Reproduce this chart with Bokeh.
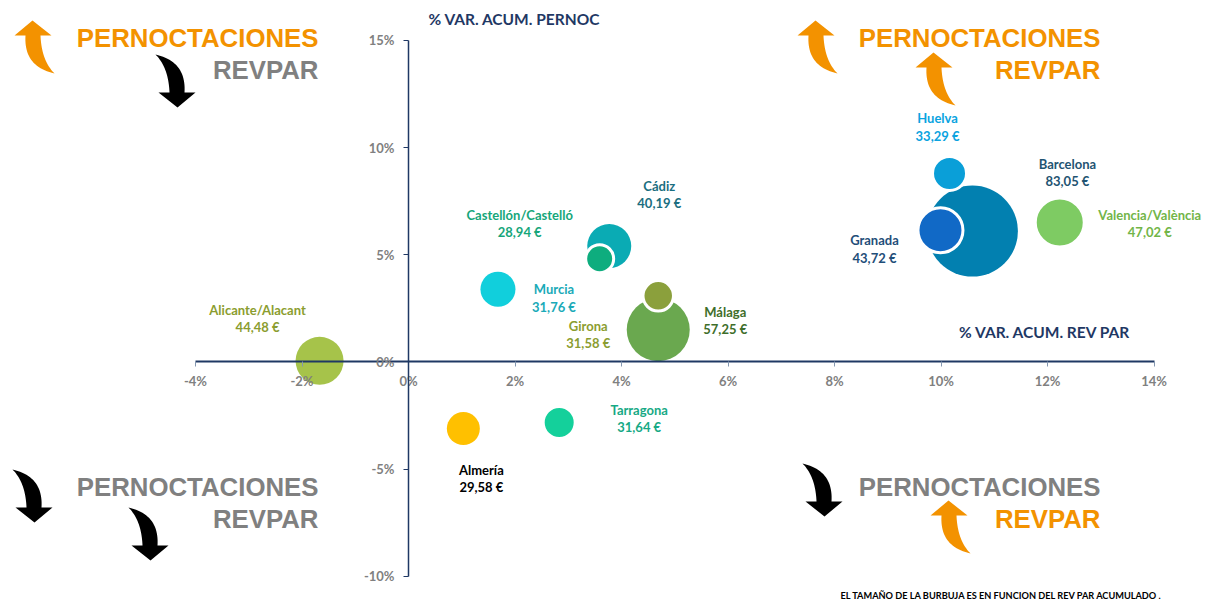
import numpy as np
from bokeh.plotting import figure
from bokeh.models import ColumnDataSource, Range1d, FixedTicker, CustomJSTickFormatter
from bokeh.core.properties import value
from bokeh.embed import file_html
from bokeh.resources import INLINE

# ---------------- data ----------------
provinces = ["Alicante/Alacant", "Murcia", "Cádiz", "Castellón/Castelló", "Málaga", "Girona",
             "Barcelona", "Huelva", "Granada", "Valencia/València", "Almería", "Tarragona"]
revpar_var = [-1.67, 1.68, 3.77, 3.59, 4.69, 4.69, 10.59, 10.16, 9.99, 12.23, 1.03, 2.83]
pernoc_var = [0.05, 3.39, 5.40, 4.81, 1.50, 3.08, 6.10, 8.79, 6.14, 6.50, -3.11, -2.83]
revpar_eur = ["44,48 €", "31,76 €", "40,19 €", "28,94 €", "57,25 €", "31,58 €",
              "83,05 €", "33,29 €", "43,72 €", "47,02 €", "29,58 €", "31,64 €"]
bubble_size = [48, 35, 44, 28, 63, 30.5, 91, 34, 45, 49, 33, 32]
x_ticks = [-4, -2, 0, 2, 4, 6, 8, 10, 12, 14]
y_ticks = [-10, -5, 0, 5, 10, 15]

# ---------------- styles ----------------
fill_colors = ["#A6C34A", "#11CFDC", "#0AABB4", "#0EAD7E", "#6AA84F", "#8BA03C",
               "#0280B0", "#0A9FD8", "#1169C6", "#7ECB63", "#FFC000", "#14D09B"]
label_colors = ["#8B9D2F", "#1AAAB8", "#1A6E80", "#16A67A", "#3E6E2A", "#8B9D2F",
                "#1F5472", "#0AA3DF", "#1F4E79", "#72B548", "#000000", "#17A985"]
ring = [False, False, False, True, False, True, False, True, True, True, False, True]
name_dx = [-62, 56, 50, -80, 67, -70, 95, -12, -66, 90, 18, 80]
name_dy = [-51, 0, -60, -44, -18, 30, -67, -55, 10, -8, 41, -13]

W, H = 1210, 603
XPX0, XSC = 408.0, 53.25     # pixel of x=0 inside the figure, px per unit
YPX0, YSC = 361.4, 21.44
x0, x1 = -XPX0 / XSC, (W - XPX0) / XSC
y1, y0 = YPX0 / YSC, -(H - YPX0) / YSC

p = figure(width=W, height=H, x_range=Range1d(x0, x1), y_range=Range1d(y0, y1),
           output_backend="svg", toolbar_location=None, min_border=0)
p.min_border_left = p.min_border_right = p.min_border_top = p.min_border_bottom = 0
p.outline_line_color = None
p.xgrid.visible = False
p.ygrid.visible = False
p.extra_x_ranges = {"px": Range1d(0, W)}
p.extra_y_ranges = {"px": Range1d(H, 0)}

fmt = CustomJSTickFormatter(code="return tick.toFixed(0) + '%';")

xa = p.xaxis[0]
xa.fixed_location = 0
xa.bounds = (-4, 14)
xa.ticker = FixedTicker(ticks=x_ticks)
xa.formatter = fmt
xa.axis_line_color = "#1F3864"
xa.axis_line_width = 2
xa.major_tick_line_color = "#8497B0"
xa.major_tick_out = 5
xa.major_tick_in = 0
xa.minor_tick_line_color = None
xa.major_label_text_font = "Lato"
xa.major_label_text_font_style = "bold"
xa.major_label_text_font_size = "13px"
xa.major_label_text_color = "#808080"
xa.major_label_standoff = 6

ya = p.yaxis[0]
ya.fixed_location = 0
ya.bounds = (-10, 15)
ya.ticker = FixedTicker(ticks=y_ticks)
ya.formatter = fmt
ya.axis_line_color = "#1F3864"
ya.axis_line_width = 1.5
ya.major_tick_line_color = "#1F3864"
ya.major_tick_out = 5
ya.major_tick_in = 0
ya.minor_tick_line_color = None
ya.major_label_text_font = "Lato"
ya.major_label_text_font_style = "bold"
ya.major_label_text_font_size = "13px"
ya.major_label_text_color = "#808080"
ya.major_label_standoff = 9

# ---------------- quadrant decorations (page pixel coords) ----------------
def bez(a, b, c, n=24):
    t = np.linspace(0, 1, n)[:, None]
    a, b, c = np.array(a, float), np.array(b, float), np.array(c, float)
    return (1 - t) ** 2 * a + 2 * (1 - t) * t * b + t ** 2 * c

def arrow(ox, oy, up=True):
    inner = bez((26, 15), (27, 40), (40, 53))
    outer = bez((40, 53), (9, 46), (11, 15))
    pts = np.vstack([[[18, 0], [37, 15]], inner, outer[1:], [[0, 15]]])
    if not up:
        pts = np.column_stack([40 - pts[:, 0], 53 - pts[:, 1]])
    return list(pts[:, 0] + ox), list(pts[:, 1] + oy)

ORANGE, GREY = "#F39200", "#808080"
arrows = [(14, 20, True, ORANGE), (155, 54, False, "#000000"),
          (797, 20, True, ORANGE), (915, 52, True, ORANGE),
          (12, 469, False, "#000000"), (128, 507, False, "#000000"),
          (802, 463, False, "#000000"), (930, 500, True, ORANGE)]
axs, ays, acs = [], [], []
for ox, oy, up, c in arrows:
    xs, ys = arrow(ox, oy, up)
    axs.append(xs); ays.append(ys); acs.append(c)
p.patches(xs=axs, ys=ays, fill_color=acs, line_color=None,
          x_range_name="px", y_range_name="px")

quad = ColumnDataSource(dict(
    x=[318, 318, 1100, 1100, 318, 318, 1100, 1100],
    y=[37, 69, 37, 69, 486, 518, 486, 518],
    t=["PERNOCTACIONES", "REVPAR"] * 4,
    c=[ORANGE, GREY, ORANGE, ORANGE, GREY, GREY, GREY, ORANGE]))
p.text(x="x", y="y", text="t", text_color="c", source=quad,
       text_font=value("Liberation Sans"), text_font_style="bold",
       text_font_size="25.8px", text_align="right", text_baseline="middle",
       x_range_name="px", y_range_name="px")

p.text(x=[428], y=[18], text=["% VAR. ACUM. PERNOC"], text_color="#1F3864",
       text_font=value("Lato"), text_font_style="bold", text_font_size="15.5px",
       text_align="left", text_baseline="middle", x_range_name="px", y_range_name="px")
p.text(x=[1044.5], y=[331.5], text=["% VAR. ACUM. REV PAR"], text_color="#1F3864",
       text_font=value("Lato"), text_font_style="bold", text_font_size="15.5px",
       text_align="center", text_baseline="middle", x_range_name="px", y_range_name="px")
p.text(x=[840], y=[595], text=["EL TAMAÑO DE LA BURBUJA ES EN FUNCION DEL REV PAR ACUMULADO ."],
       text_color="#000000", text_font=value("Lato"), text_font_style="bold",
       text_font_size="9.2px", text_align="left", text_baseline="middle",
       x_range_name="px", y_range_name="px")

# ---------------- bubbles ----------------
src = ColumnDataSource(dict(
    x=revpar_var, y=pernoc_var, size=bubble_size, name=provinces, val=revpar_eur,
    fill=fill_colors, lab=label_colors,
    lw=[3 if r else 0 for r in ring],
    lc=["white" if r else None for r in ring],
    ndx=name_dx, ndy=name_dy, vdy=[d + 17.3 for d in name_dy]))

p.scatter(x="x", y="y", size="size", fill_color="fill", line_color="lc",
          line_width="lw", source=src)

p.text(x="x", y="y", text="name", text_color="lab", x_offset="ndx", y_offset="ndy",
       source=src, text_font=value("Lato"), text_font_style="bold", text_font_size="13px",
       text_align="center", text_baseline="middle")
p.text(x="x", y="y", text="val", text_color="lab", x_offset="ndx", y_offset="vdy",
       source=src, text_font=value("Lato"), text_font_style="bold", text_font_size="13px",
       text_align="center", text_baseline="middle")

open("out.html", "w").write(file_html(p, INLINE))
